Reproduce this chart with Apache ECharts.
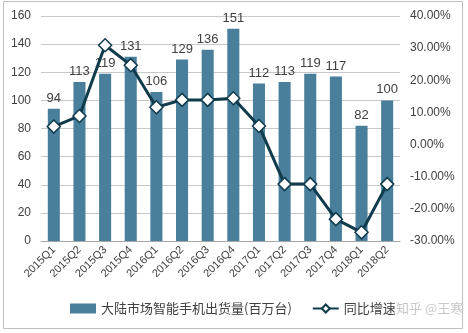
<!DOCTYPE html>
<html><head><meta charset="utf-8">
<script src="https://cdn.jsdelivr.net/npm/echarts@6/dist/echarts.min.js"></script>
<style>html,body{margin:0;padding:0;background:#fff}#c{width:468px;height:333px}</style>
</head><body><div id="c"></div>
<script>
const categories = ['2015Q1','2015Q2','2015Q3','2015Q4','2016Q1','2016Q2','2016Q3','2016Q4','2017Q1','2017Q2','2017Q3','2017Q4','2018Q1','2018Q2'];
const shipments = [94,113,119,131,106,129,136,151,112,113,119,117,82,100];
const growth = [5.6,8.9,30.9,24.7,11.6,13.9,13.9,14.4,5.8,-12.3,-12.3,-23.2,-27.3,-12.3];
const barName = '大陆市场智能手机出货量(百万台)';
const lineName = '同比增速';
const watermark = '知乎 @王寒';

const font = '"Liberation Sans", Arial, "Noto Sans CJK SC", sans-serif';
const chart = echarts.init(document.getElementById('c'), null, {renderer:'canvas'});
chart.setOption({
  animation:false,
  textStyle:{fontFamily:font},
  graphic:[
    {type:'rect', shape:{x:3.5,y:1.5,width:459,height:327}, style:{fill:'none', stroke:'#bfbfbf', lineWidth:1}},
    {type:'text', left:396, top:302, z:10, style:{text:watermark, fill:'#c8c8c8', font:'13px "Noto Sans CJK SC", sans-serif'}}
  ],
  grid:{left:41, right:68, top:16, bottom:92},
  legend:{
    bottom:13, left:65, itemGap:20,
    textStyle:{fontSize:13, color:'#404040', fontFamily:'"Noto Sans CJK SC", sans-serif'},
    data:[{name:barName, icon:'rect', itemStyle:{color:'#4a7f9c'}}, {name:lineName}],
    itemWidth:26, itemHeight:10
  },
  xAxis:{
    type:'category', data:categories,
    axisLine:{lineStyle:{color:'#a6a6a6'}},
    axisTick:{show:false},
    axisLabel:{rotate:45, fontSize:11, color:'#404040', margin:7, interval:0}
  },
  yAxis:[
    {type:'value', min:0, max:160, interval:20,
     axisLine:{show:false}, axisTick:{show:false},
     axisLabel:{fontSize:12, color:'#404040', margin:10},
     splitLine:{lineStyle:{color:'#c8c8c8'}}},
    {type:'value', min:-30, max:40, interval:10,
     axisLine:{show:false}, axisTick:{show:false},
     axisLabel:{fontSize:12, color:'#404040', margin:10, formatter:v=>v.toFixed(2)+'%'},
     splitLine:{show:false}}
  ],
  series:[
    {name:barName, type:'bar', data:shipments, barWidth:'47%',
     itemStyle:{color:'#4a7f9c'},
     label:{show:true, position:'top', fontSize:13, color:'#404040', distance:4}},
    {name:lineName, type:'line', yAxisIndex:1, data:growth,
     symbol:'diamond', symbolSize:13,
     lineStyle:{color:'#0f3b4c', width:3},
     itemStyle:{color:'#ffffff', borderColor:'#0f3b4c', borderWidth:1.5}}
  ]
});
</script></body></html>
